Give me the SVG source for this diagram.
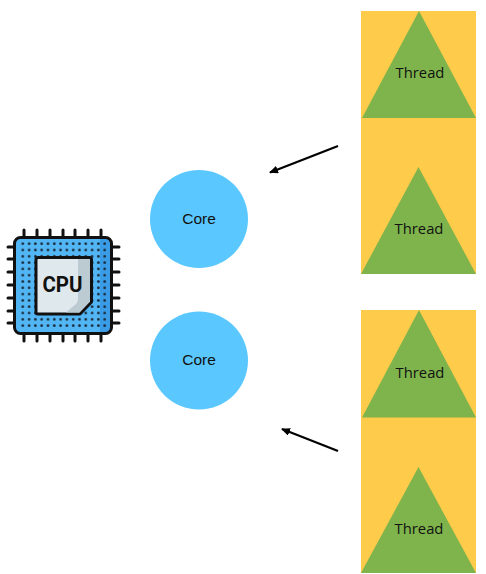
<svg xmlns="http://www.w3.org/2000/svg" width="486" height="574" viewBox="0 0 486 574">
<style>
.t{font-family:"Open Sans","Liberation Sans",sans-serif;font-size:14.800px;fill:#111;text-anchor:middle}
.c{font-family:"Liberation Sans",sans-serif;font-size:15.500px;fill:#111;text-anchor:middle}
.rect{fill:#ffcb4a}.tri{fill:#7fb44c}.core{fill:#5ac8ff}
.pin{stroke:#111;stroke-width:3;stroke-linecap:round;fill:none}
.arr{stroke:#000;stroke-width:2.200;fill:none;marker-end:url(#a)}
</style>
<defs>
<marker id="a" markerUnits="userSpaceOnUse" markerWidth="10" markerHeight="8" refX="8" refY="4" orient="auto"><path d="M0 0L9 4L0 8z" fill="#000"/></marker>
<pattern id="d" x="19.700" y="240.500" width="6.300" height="6.300" patternUnits="userSpaceOnUse"><circle cx="3.100" cy="3.100" r="1.350" fill="#1a2a38"/></pattern>
</defs>
<g id="cpu">
<path class="pin" d="M24 230v8M37 230v8M50 230v8M63 230v8M75 230v8M88 230v8M101 230v8M24 333v8M37 333v8M50 333v8M63 333v8M75 333v8M88 333v8M101 333v8M8 247h8M8 259h8M8 272h8M8 285h8M8 298h8M8 311h8M8 323h8M111 247h8M111 259h8M111 272h8M111 285h8M111 298h8M111 311h8M111 323h8"/>
<rect x="14.500" y="237.500" width="97" height="96" rx="6" fill="#52b5f4"/>
<path d="M100 238h6a5 5 0 0 1 5 5v85a5 5 0 0 1-5 5h-6z" fill="#3a9ce6"/>
<rect x="19.700" y="240.500" width="88.200" height="88.200" fill="url(#d)"/>
<rect x="14.500" y="237.500" width="97" height="96" rx="6" fill="none" stroke="#111" stroke-width="3"/>
<path d="M38 257.500H89.500Q91.500 257.500 91.500 259.500V302L80 314H38Q36 314 36 312V259.500Q36 257.500 38 257.500z" fill="#dfe8ec" stroke="#111" stroke-width="3" stroke-linejoin="round"/>
<path d="M78 259H90V301.500L79.500 312.500H66L76 304Q78 302 78 298z" fill="#bccbd1"/>
<text x="62.500" y="291.500" font-family="Roboto,'Liberation Sans',sans-serif" font-size="22" font-weight="700" fill="#111" text-anchor="middle" textLength="40" lengthAdjust="spacingAndGlyphs">CPU</text>
</g>
<g id="core1"><circle class="core" cx="199" cy="219" r="49"/><text class="c" x="199" y="224">Core</text></g>
<g id="core2"><circle class="core" cx="199" cy="360.500" r="49"/><text class="c" x="199" y="365">Core</text></g>
<g id="threads1">
<rect class="rect" x="361" y="11" width="115" height="263"/>
<path class="tri" d="M419 11L476 118H362z"/>
<text class="t" x="420" y="78">Thread</text>
<path class="tri" d="M418.500 167L476 274H361z"/>
<text class="t" x="419" y="234">Thread</text>
</g>
<g id="threads2">
<rect class="rect" x="361" y="310" width="115" height="263"/>
<path class="tri" d="M419 310L476 417.500H362z"/>
<text class="t" x="420" y="378">Thread</text>
<path class="tri" d="M418.500 467L476 573H361z"/>
<text class="t" x="419" y="534">Thread</text>
</g>
<g id="connectors">
<path class="arr" d="M338 146L270 172.500"/>
<path class="arr" d="M338 451L282 429"/>
</g>
</svg>
